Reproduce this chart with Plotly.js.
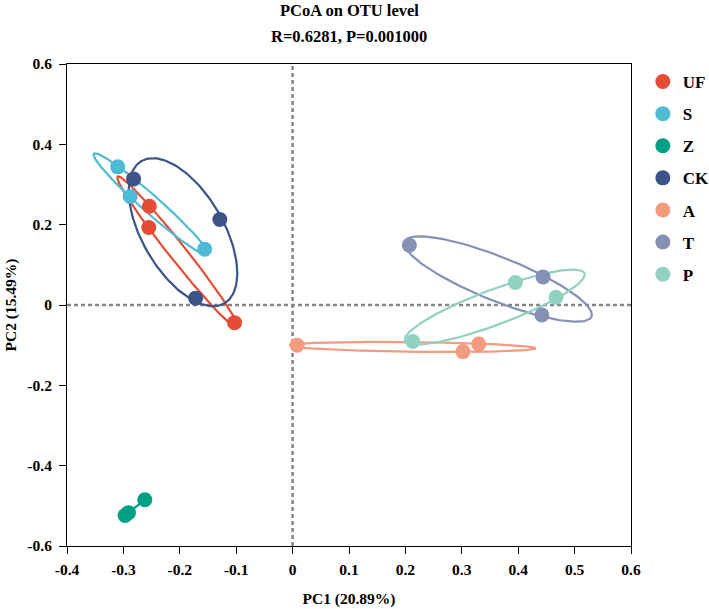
<!DOCTYPE html>
<html>
<head>
<meta charset="utf-8">
<script src="https://cdn.plot.ly/plotly-3.0.1.min.js"></script>
<style>html,body{margin:0;padding:0;background:#fff;}#chart{width:709px;height:609px;}</style>
</head>
<body>
<div id="chart"></div>
<script>
// ---- data ----
const groups = ["UF", "S", "Z", "CK", "A", "T", "P"];
const colors = ["#E64B35", "#4DBBD5", "#00A087", "#3C5488", "#F39B7F", "#8491B4", "#91D1C2"];
const pc1_UF = [-0.254, -0.255, -0.103];
const pc2_UF = [0.246, 0.193, -0.044];
const pc1_S = [-0.310, -0.288, -0.156];
const pc2_S = [0.344, 0.270, 0.139];
const pc1_Z = [-0.297, -0.291, -0.262];
const pc2_Z = [-0.524, -0.517, -0.485];
const pc1_CK = [-0.282, -0.129, -0.172];
const pc2_CK = [0.314, 0.213, 0.017];
const pc1_A = [0.008, 0.302, 0.330];
const pc2_A = [-0.100, -0.116, -0.097];
const pc1_T = [0.207, 0.444, 0.442];
const pc2_T = [0.149, 0.070, -0.025];
const pc1_P = [0.395, 0.467, 0.213];
const pc2_P = [0.056, 0.019, -0.091];
const xTickVals = [-0.4, -0.3, -0.2, -0.1, 0, 0.1, 0.2, 0.3, 0.4, 0.5, 0.6];
const xTickText = ["-0.4", "-0.3", "-0.2", "-0.1", "0", "0.1", "0.2", "0.3", "0.4", "0.5", "0.6"];
const yTickVals = [-0.6, -0.4, -0.2, 0, 0.2, 0.4, 0.6];
const yTickText = ["-0.6", "-0.4", "-0.2", "0", "0.2", "0.4", "0.6"];
const titleLine1 = "PCoA on OTU level";
const titleLine2 = "R=0.6281, P=0.001000";
const xTitle = "PC1 (20.89%)";
const yTitle = "PC2 (15.49%)";

const xs = {UF: pc1_UF, S: pc1_S, Z: pc1_Z, CK: pc1_CK, A: pc1_A, T: pc1_T, P: pc1_P};
const ys = {UF: pc2_UF, S: pc2_S, Z: pc2_Z, CK: pc2_CK, A: pc2_A, T: pc2_T, P: pc2_P};

// confidence-style ellipse from sample covariance
const ELL_SCALE = 1.22;
function ellipse(x, y) {
  const n = x.length;
  const mx = x.reduce((a, b) => a + b, 0) / n;
  const my = y.reduce((a, b) => a + b, 0) / n;
  let sxx = 0, syy = 0, sxy = 0;
  for (let i = 0; i < n; i++) {
    sxx += (x[i] - mx) ** 2; syy += (y[i] - my) ** 2; sxy += (x[i] - mx) * (y[i] - my);
  }
  sxx /= (n - 1); syy /= (n - 1); sxy /= (n - 1);
  const l11 = Math.sqrt(sxx);
  const l21 = sxy / l11;
  const l22 = Math.sqrt(Math.max(syy - l21 * l21, 1e-12));
  const ex = [], ey = [];
  for (let k = 0; k <= 200; k++) {
    const t = 2 * Math.PI * k / 200;
    const u = Math.cos(t) * ELL_SCALE, v = Math.sin(t) * ELL_SCALE;
    ex.push(mx + l11 * u);
    ey.push(my + l21 * u + l22 * v);
  }
  return {ex, ey};
}

const traces = [];
groups.forEach((g, i) => {
  const e = ellipse(xs[g], ys[g]);
  traces.push({
    x: e.ex, y: e.ey, type: "scatter", mode: "lines",
    line: {color: colors[i], width: 2.2}, showlegend: false, hoverinfo: "skip",
    legendgroup: g
  });
});
groups.forEach((g, i) => {
  traces.push({
    x: xs[g], y: ys[g], type: "scatter", mode: "markers", name: g,
    marker: {color: colors[i], size: 15, line: {width: 0}},
    legendgroup: g
  });
});

const serif = "Liberation Serif, Times New Roman, serif";
const tickFont = {family: serif, size: 15.5, weight: "bold", color: "#000"};
const axTitleFont = {family: serif, size: 15.5, weight: "bold", color: "#000"};
const titleFont = {family: serif, size: 16.5, weight: "bold", color: "#000"};
const layout = {
  width: 709, height: 609,
  paper_bgcolor: "#fff", plot_bgcolor: "#fff",
  margin: {l: 67, r: 78, t: 64, b: 63, autoexpand: false},
  font: {family: serif, color: "#000"},
  xaxis: {
    range: [-0.4, 0.6], tickvals: xTickVals, ticktext: xTickText,
    showgrid: false, zeroline: false, showline: true, mirror: true,
    linecolor: "#000", linewidth: 1, ticks: "outside", ticklen: 7, tickcolor: "#000",
    ticklabelstandoff: 2,
    tickfont: tickFont,
    title: {text: xTitle, font: axTitleFont, standoff: 16}
  },
  yaxis: {
    range: [-0.6, 0.6], tickvals: yTickVals, ticktext: yTickText,
    showgrid: false, zeroline: false, showline: true, mirror: true,
    linecolor: "#000", linewidth: 1, ticks: "outside", ticklen: 7, tickcolor: "#000",
    ticklabelstandoff: 4,
    tickfont: tickFont,
    title: {text: yTitle, font: axTitleFont, standoff: 6}
  },
  shapes: [
    {type: "line", xref: "x", yref: "paper", x0: 0, x1: 0, y0: 0, y1: 1, layer: "below",
     line: {color: "#858585", width: 2.5, dash: "4px,3px"}},
    {type: "line", xref: "paper", yref: "y", x0: 0, x1: 1, y0: 0, y1: 0, layer: "below",
     line: {color: "#858585", width: 2.5, dash: "4px,3px"}}
  ],
  annotations: [
    {text: titleLine1, xref: "paper", yref: "paper", x: 0.5, y: 1.112, yanchor: "middle",
     showarrow: false, font: titleFont},
    {text: titleLine2, xref: "paper", yref: "paper", x: 0.5, y: 1.058, yanchor: "middle",
     showarrow: false, font: titleFont}
  ],
  legend: {
    x: 1.021, xanchor: "left", y: 1.0, yanchor: "top",
    font: {family: serif, size: 17, weight: "bold", color: "#000"},
    itemsizing: "trace", tracegroupgap: 7, bgcolor: "rgba(0,0,0,0)"
  },
  showlegend: true
};

Plotly.newPlot("chart", traces, layout, {displayModeBar: false, staticPlot: true});
</script>
</body>
</html>
